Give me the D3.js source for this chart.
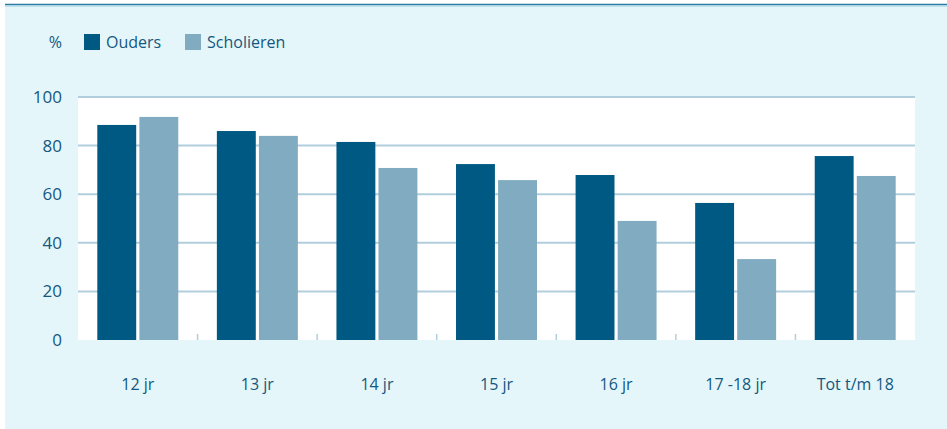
<!DOCTYPE html>
<html>
<head>
<meta charset="utf-8">
<script src="https://cdn.jsdelivr.net/npm/d3@7"></script>
<style>
  body { margin: 0; background: #fff; }
  svg text { font-family: "Open Sans", "Noto Sans", sans-serif; fill: #14587f; }
</style>
</head>
<body>
<div id="chart"></div>
<script>
// DATA
var categories = ["12 jr", "13 jr", "14 jr", "15 jr", "16 jr", "17 -18 jr", "Tot t/m 18"];
var ouders     = [88.5, 86, 81.5, 72.4, 67.9, 56.4, 75.7];
var scholieren = [91.8, 84, 70.8, 65.8, 49, 33.3, 67.5];
var seriesNames = ["Ouders", "Scholieren"];
var yTicks = [0, 20, 40, 60, 80, 100];

var colours = {"Ouders": "#005983", "Scholieren": "#80abc0"};

var width = 947, height = 429;
var margin = {left: 78, right: 32, top: 97, bottom: 89};

var rows = categories.map(function(c, i) {
  return {cat: c, Ouders: ouders[i], Scholieren: scholieren[i]};
});

var svg = d3.select("#chart")
  .append("svg")
  .attr("width", width)
  .attr("height", height);

// panel background + top rule
svg.append("rect")
  .attr("x", 5).attr("y", 4)
  .attr("width", width - 5).attr("height", height - 4)
  .attr("fill", "#e4f6fa");
svg.append("line")
  .attr("x1", 5).attr("x2", width).attr("y1", 4.5).attr("y2", 4.5)
  .attr("stroke", "#2b7ca3").attr("stroke-width", 1.5);
svg.append("line")
  .attr("x1", 5).attr("x2", width).attr("y1", 6).attr("y2", 6)
  .attr("stroke", "#9cd0e2").attr("stroke-width", 1);

var x0 = d3.scaleBand()
  .domain(categories)
  .range([margin.left, width - margin.right])
  .paddingInner(0)
  .paddingOuter(0);

var x1 = d3.scaleBand()
  .domain(seriesNames)
  .range([19.3, x0.bandwidth() - 19.3])
  .paddingInner(0.075);

var y = d3.scaleLinear()
  .domain([0, 100])
  .range([height - margin.bottom, margin.top]);

// plot area
svg.append("rect")
  .attr("x", margin.left).attr("y", y(100))
  .attr("width", width - margin.right - margin.left)
  .attr("height", y(0) - y(100))
  .attr("fill", "#fff");

// gridlines
svg.append("g")
  .selectAll("line")
  .data(yTicks.filter(function(d) { return d > 0; }))
  .enter()
  .append("line")
  .attr("x1", margin.left).attr("x2", width - margin.right)
  .attr("y1", function(d) { return y(d); })
  .attr("y2", function(d) { return y(d); })
  .attr("stroke", "#b1cedc").attr("stroke-width", 2);

// small category separators at the bottom
svg.append("g")
  .selectAll("line")
  .data(categories.slice(1))
  .enter()
  .append("line")
  .attr("x1", function(d) { return x0(d); })
  .attr("x2", function(d) { return x0(d); })
  .attr("y1", y(0) - 6).attr("y2", y(0))
  .attr("stroke", "#b1cedc").attr("stroke-width", 1.5);

// bars
var groups = svg.append("g")
  .selectAll("g")
  .data(rows)
  .enter()
  .append("g")
  .attr("transform", function(d) { return "translate(" + x0(d.cat) + ",0)"; });

groups.selectAll("rect")
  .data(function(d) { return seriesNames.map(function(k) { return {key: k, value: d[k]}; }); })
  .enter()
  .append("rect")
  .attr("x", function(d) { return x1(d.key); })
  .attr("width", x1.bandwidth())
  .attr("y", function(d) { return y(d.value); })
  .attr("height", function(d) { return y(0) - y(d.value); })
  .attr("fill", function(d) { return colours[d.key]; });

// y axis labels
var yAxis = d3.axisLeft(y).tickValues(yTicks).tickSize(0).tickPadding(16);
svg.append("g")
  .attr("transform", "translate(" + margin.left + ",0)")
  .call(yAxis)
  .call(function(g) { g.select(".domain").remove(); })
  .selectAll("text")
  .style("font-size", "17px");

// x axis labels
var xAxis = d3.axisBottom(x0).tickSize(0).tickPadding(39);
svg.append("g")
  .attr("transform", "translate(0," + y(0) + ")")
  .call(xAxis)
  .call(function(g) { g.select(".domain").remove(); })
  .selectAll("text")
  .style("font-size", "16px");

// legend
svg.append("text")
  .attr("x", 62).attr("y", 48)
  .attr("text-anchor", "end")
  .style("font-size", "16px")
  .text("%");

var legendX = [84, 185];
var legend = svg.append("g")
  .selectAll("g")
  .data(seriesNames)
  .enter()
  .append("g")
  .attr("transform", function(d, i) { return "translate(" + legendX[i] + ",34)"; });
legend.append("rect")
  .attr("width", 16).attr("height", 16)
  .attr("fill", function(d) { return colours[d]; });
legend.append("text")
  .attr("x", 22).attr("y", 14)
  .style("font-size", "16px")
  .text(function(d) { return d; });
</script>
</body>
</html>
